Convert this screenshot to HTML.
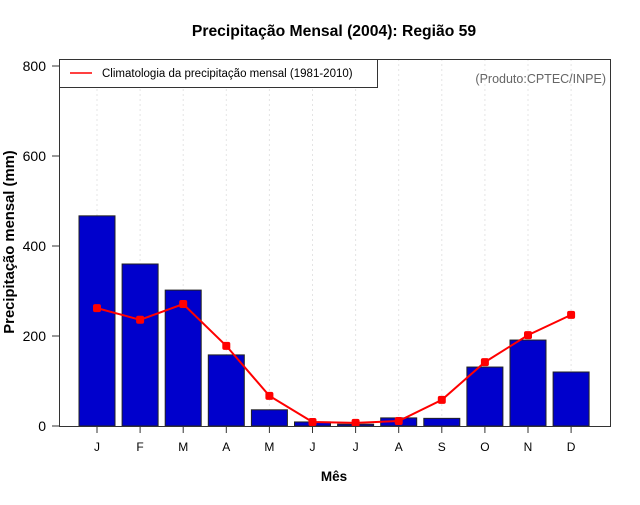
<!DOCTYPE html>
<html><head><meta charset="utf-8"><style>
body{margin:0;background:#fff;}
svg text{font-family:"Liberation Sans",sans-serif;}
</style></head><body>
<svg id="chart" width="640" height="500" xmlns="http://www.w3.org/2000/svg">
<text x="334" y="36" text-anchor="middle" font-size="15.7" font-weight="bold">Precipitação Mensal (2004): Região 59</text>
<g id="grid"></g>
<g id="bars"></g>
<g id="line"></g>
<rect x="59.5" y="59.5" width="551" height="367" fill="none" stroke="#333" stroke-width="1"/>
<g id="yaxis"></g>
<g id="xaxis"></g>
<g>
<rect x="59.5" y="59.5" width="318" height="28" fill="#fff" stroke="#333"/>
<line x1="70" y1="73" x2="92" y2="73" stroke="red" stroke-width="1.5"/>
<text x="102" y="77" font-size="11.5">Climatologia da precipitação mensal (1981-2010)</text>
</g>
<text x="606" y="83" text-anchor="end" font-size="12.5" fill="#666">(Produto:CPTEC/INPE)</text>
<text transform="translate(14,242) rotate(-90)" text-anchor="middle" font-size="14.8" font-weight="bold">Precipitação mensal (mm)</text>
<text x="334" y="481" text-anchor="middle" font-size="13.5" font-weight="bold">Mês</text>
</svg>
<script>
const months = ["J","F","M","A","M","J","J","A","S","O","N","D"];
const precip2004 = [467,360,302,158,36,9,4,18,17,131,191,120];
const climatology = [262,236,271,178,67,9,7,11,58,142,202,247];
const yTicks = [0,200,400,600,800];
const NS="http://www.w3.org/2000/svg";
function xs(i){return 97+i*43.1;}
function ys(v){return 426-v*0.45;}
function mk(tag,attrs,parent){const e=document.createElementNS(NS,tag);for(const k in attrs)e.setAttribute(k,attrs[k]);document.getElementById(parent).appendChild(e);return e;}
months.forEach((m,i)=>{
  const g=mk('line',{x1:xs(i),x2:xs(i),y1:59,y2:426,stroke:'#e4e4e4','stroke-dasharray':'2,3'},'grid');
  
  
  const b=mk('rect',{x:xs(i)-18,y:ys(precip2004[i]),width:36,height:426-ys(precip2004[i]),fill:'#0000cc',stroke:'#222','stroke-width':1},'bars');
  
  
  const t=mk('line',{x1:xs(i),x2:xs(i),y1:426,y2:433,stroke:'#333'},'xaxis');
  
  
  const l=mk('text',{x:xs(i),y:451,'text-anchor':'middle','font-size':12},'xaxis');
  l.textContent=m;
  
  
});
const pl=mk('polyline',{points:climatology.map((v,i)=>xs(i)+','+ys(v)).join(' '),fill:'none',stroke:'red','stroke-width':2},'line');


climatology.forEach((v,i)=>{
  const p=mk('rect',{x:xs(i)-4,y:ys(v)-4,width:8,height:8,rx:2,fill:'red'},'line');
  
  
});
yTicks.forEach(v=>{
  const t=mk('line',{x1:52,x2:59,y1:ys(v),y2:ys(v),stroke:'#333'},'yaxis');
  
  
  const l=mk('text',{x:46,y:ys(v)+5,'text-anchor':'end','font-size':14},'yaxis');
  l.textContent=v;
  
  
});
</script>
</body></html>
